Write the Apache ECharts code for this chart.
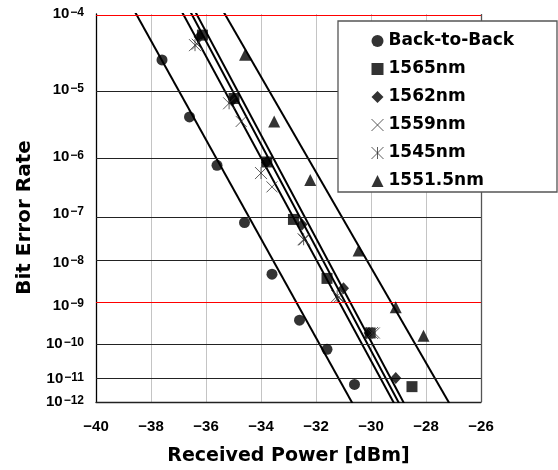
<!DOCTYPE html>
<html>
<head>
<meta charset="utf-8">
<script src="https://cdn.jsdelivr.net/npm/echarts@6/dist/echarts.min.js"></script>
<style>html,body{margin:0;padding:0;background:#fff}#c{width:558px;height:470px}</style>
</head>
<body>
<div id="c"></div>
<script>
// ---- data (received power in dBm, bit error rate) ----
const seriesNames = ['Back-to-Back', '1565nm', '1562nm', '1559nm', '1545nm', '1551.5nm'];
const powerB2B = [-37.6, -36.6, -35.6, -34.6, -33.6, -32.6, -31.6, -30.6];
const berB2B   = [2.5e-5, 4.2e-6, 7.3e-7, 6.7e-8, 5.5e-9, 4.3e-10, 7.2e-11, 6.9e-12];
const power1565 = [-36.13, -34.98, -33.79, -32.82, -31.60, -30.03, -28.51];
const ber1565   = [5.0e-5, 7.7e-6, 8.3e-7, 7.7e-8, 4.4e-9, 2.0e-10, 5.9e-12];
const power1562 = [-36.25, -35.0, -33.8, -32.51, -31.0, -30.07, -29.1];
const ber1562   = [4.8e-5, 7.5e-6, 8.2e-7, 6.1e-8, 2.6e-9, 2.0e-10, 1.07e-11];
const power1559 = [-36.32, -34.72, -33.60, -32.43, -31.16, -29.88];
const ber1559   = [3.9e-5, 3.6e-6, 3.1e-7, 3.0e-8, 1.6e-9, 2.0e-10];
const power1545 = [-36.40, -35.16, -34.0, -32.45, -31.23, -29.96];
const ber1545   = [3.8e-5, 6.6e-6, 5.4e-7, 3.1e-8, 1.7e-9, 2.0e-10];
const power1551 = [-34.58, -33.52, -32.21, -30.45, -29.10, -28.09];
const ber1551   = [2.9e-5, 3.6e-6, 4.1e-7, 1.8e-8, 9.1e-10, 1.7e-10];

// fit lines: power at BER 1e-4 and at BER 1e-12
const fitBER = [1e-4, 1e-12];
const fitB2B = [-38.65, -30.52];
const fit1545 = [-36.94, -29.01];
const fit1562 = [-36.63, -28.83];
const fit1565 = [-36.45, -28.65];
const fit1551 = [-35.43, -26.99];

// axis
const xTicks = [-40, -38, -36, -34, -32, -30, -28, -26];
const berTickExps = [4, 5, 6, 7, 8, 9, 10, 11, 12];
const axisTopExp = 4.06, axisBottomExp = 11.71;

// ---- helpers ----
const tr = b => Math.log10(-Math.log10(b));
const pts = (p, b) => p.map((x, i) => [x, tr(b[i])]);
const yMin = Math.log10(axisTopExp), yMax = Math.log10(axisBottomExp);
const tickVal = e => e === 4 ? yMin : (e === 12 ? yMax - 1e-9 : tr(Math.pow(10, -e)));

const crossPath = 'path://M0,0L10,10M10,0L0,10';
const starPath = 'path://M0,0L10,10M10,0L0,10M5,0L5,10';
const strokeStyle = {color: 'transparent', borderColor: '#333', borderWidth: 1};
const solid = {color: '#000'};

const gridLines = berTickExps.filter(e => e !== 12).map(e => ({
  yAxis: tickVal(e),
  lineStyle: {color: (e === 4 || e === 9) ? '#ff0000' : '#222', width: 1, type: 'solid'}
}));
gridLines.push({xAxis: -26, lineStyle: {color: '#555', width: 1.3, type: 'solid'}});

function fitSeries(name, p) {
  return {
    name: name, type: 'line', data: pts(p, fitBER), symbol: 'none', clip: true,
    lineStyle: {color: '#000', width: 2}, z: 3, silent: true
  };
}

const chart = echarts.init(document.getElementById('c'), null, {renderer: 'canvas'});
chart.setOption({
  animation: false,
  backgroundColor: '#fff',
  grid: {left: 96, top: 14, width: 385, height: 388, containLabel: false, outerBoundsMode: 'none'},
  xAxis: {
    type: 'value', min: xTicks[0], max: xTicks[xTicks.length - 1], interval: 2,
    name: 'Received Power [dBm]', nameLocation: 'middle', nameGap: 45,
    nameTextStyle: {fontFamily: 'DejaVu Sans', fontWeight: 'bold', fontSize: 19, color: '#000'},
    axisLine: {show: true, lineStyle: {color: '#222', width: 1.3}},
    axisTick: {show: false},
    splitLine: {show: true, lineStyle: {color: '#c4c4c4', width: 1}},
    axisLabel: {
      margin: 17, fontFamily: 'Liberation Sans', fontWeight: 'bold', fontSize: 15, color: '#000',
      showMinLabel: true, showMaxLabel: true,
      formatter: v => (v < 0 ? '\u2212' : '') + Math.abs(v)
    }
  },
  yAxis: {
    type: 'value', inverse: true, min: yMin, max: yMax,
    name: 'Bit Error Rate', nameLocation: 'middle', nameGap: 60, nameRotate: 90,
    nameTextStyle: {fontFamily: 'DejaVu Sans', fontWeight: 'bold', fontSize: 20, color: '#000', padding: [0, 19, 0, 0]},
    axisLine: {show: true, lineStyle: {color: '#000', width: 1.3}},
    axisTick: {show: false},
    splitLine: {show: false},
    axisLabel: {
      show: true, margin: 12, showMinLabel: true, showMaxLabel: true, hideOverlap: false,
      customValues: berTickExps.map(tickVal),
      formatter: v => '{b|10}{s|\u2212' + Math.round(Math.pow(10, v)) + '}',
      rich: {
        b: {fontFamily: 'Liberation Sans', fontWeight: 'bold', fontSize: 15, lineHeight: 15, padding: [7, 1, 0, 0], verticalAlign: 'bottom', color: '#000'},
        s: {fontFamily: 'Liberation Sans', fontWeight: 'bold', fontSize: 12, lineHeight: 12, verticalAlign: 'top', color: '#000'}
      }
    }
  },
  legend: {
    orient: 'vertical', left: 366, top: 27.5, itemWidth: 12, itemHeight: 12, itemGap: 11, z: 20,
    textStyle: {fontFamily: 'DejaVu Sans', fontWeight: 'bold', fontSize: 17, color: '#000'},
    data: [
      {name: seriesNames[0], icon: 'circle'},
      {name: seriesNames[1], icon: 'rect'},
      {name: seriesNames[2], icon: 'diamond'},
      {name: seriesNames[3], icon: crossPath, itemStyle: strokeStyle},
      {name: seriesNames[4], icon: starPath, itemStyle: strokeStyle},
      {name: seriesNames[5], icon: 'triangle'}
    ]
  },
  graphic: [{
    type: 'rect', z: 10, shape: {x: 338, y: 21, width: 219, height: 171},
    style: {fill: '#fff', stroke: '#555', lineWidth: 1.3}
  }],
  series: [
    {
      name: 'grid', type: 'scatter', data: [], z: 1, silent: true,
      markLine: {silent: true, symbol: ['none', 'none'], label: {show: false}, animation: false, data: gridLines}
    },
    fitSeries('fit B2B', fitB2B),
    fitSeries('fit 1545/1559', fit1545),
    fitSeries('fit 1562', fit1562),
    fitSeries('fit 1565', fit1565),
    fitSeries('fit 1551.5', fit1551),
    {name: seriesNames[0], type: 'scatter', data: pts(powerB2B, berB2B), symbol: 'circle', symbolSize: 11, itemStyle: solid, z: 5},
    {name: seriesNames[1], type: 'scatter', data: pts(power1565, ber1565), symbol: 'rect', symbolSize: 11, itemStyle: solid, z: 5},
    {name: seriesNames[2], type: 'scatter', data: pts(power1562, ber1562), symbol: 'diamond', symbolSize: [11, 12], itemStyle: solid, z: 5},
    {name: seriesNames[3], type: 'scatter', data: pts(power1559, ber1559), symbol: crossPath, symbolSize: 11, itemStyle: strokeStyle, z: 5},
    {name: seriesNames[4], type: 'scatter', data: pts(power1545, ber1545), symbol: starPath, symbolSize: 12, itemStyle: strokeStyle, z: 5},
    {name: seriesNames[5], type: 'scatter', data: pts(power1551, ber1551), symbol: 'triangle', symbolSize: 12, itemStyle: solid, z: 5}
  ]
});
</script>
</body>
</html>
